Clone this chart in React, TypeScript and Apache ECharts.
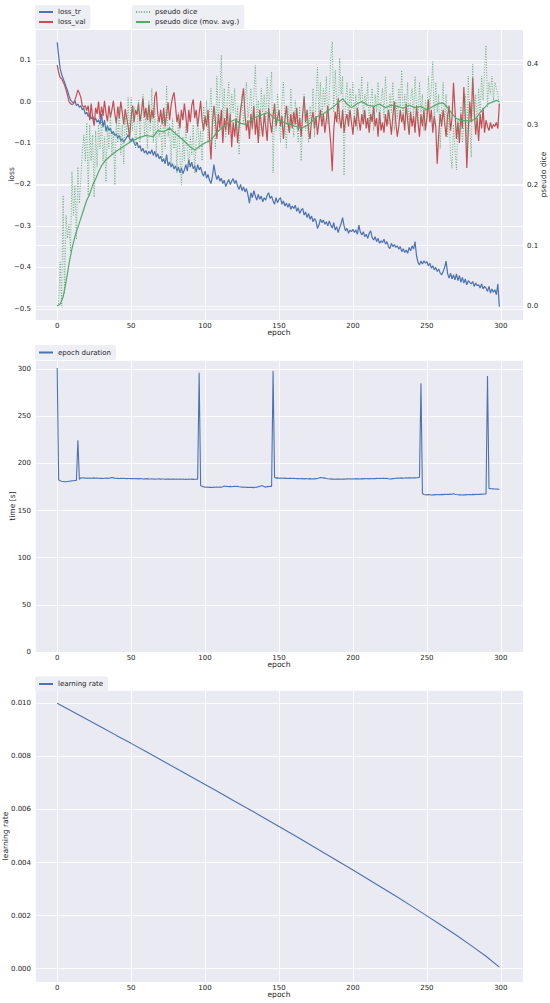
import React, { useEffect, useRef } from "react";
import * as echarts from "echarts";

// ---------- data ----------
const epochs: number[] = Array.from({ length: 300 }, (_, i) => i);

const lossTr: number[] = [
  0.143, 0.11, 0.08, 0.066, 0.056, 0.046, 0.036, 0.026, 0.014, 0.004,
  0.0, -0.004, 0.002, -0.01, -0.006, -0.014, -0.01, -0.02, -0.016, -0.03,
  -0.026, -0.036, -0.03, -0.042, -0.036, -0.046, -0.04, -0.05, -0.044, -0.055,
  -0.03, -0.062, -0.045, -0.072, -0.058, -0.07, -0.064, -0.078, -0.072, -0.082,
  -0.078, -0.088, -0.082, -0.094, -0.09, -0.098, -0.092, -0.086, -0.08, -0.09,
  -0.095, -0.088, -0.1, -0.106, -0.098, -0.112, -0.106, -0.12, -0.113, -0.124,
  -0.118, -0.128, -0.12, -0.126, -0.116, -0.13, -0.12, -0.134, -0.126, -0.138,
  -0.132, -0.145, -0.138, -0.15, -0.128, -0.155, -0.146, -0.158, -0.15, -0.163,
  -0.155, -0.168, -0.158, -0.172, -0.16, -0.174, -0.165, -0.152, -0.168, -0.14,
  -0.158, -0.146, -0.162, -0.155, -0.17, -0.152, -0.165, -0.158, -0.172, -0.18,
  -0.168, -0.185, -0.176, -0.19, -0.198, -0.18, -0.152, -0.175, -0.188, -0.178,
  -0.192, -0.185, -0.198, -0.19, -0.205, -0.196, -0.188, -0.2, -0.192, -0.186,
  -0.198, -0.19, -0.204, -0.212, -0.2, -0.215, -0.206, -0.218, -0.21, -0.225,
  -0.245, -0.22, -0.232, -0.215, -0.228, -0.238, -0.224, -0.236, -0.228, -0.242,
  -0.232, -0.238, -0.226, -0.22, -0.234, -0.228, -0.24, -0.248, -0.232, -0.244,
  -0.236, -0.232, -0.248, -0.24, -0.252, -0.245, -0.255, -0.246, -0.26, -0.252,
  -0.258, -0.25, -0.265, -0.256, -0.27, -0.262, -0.258, -0.274, -0.266, -0.28,
  -0.27, -0.284, -0.276, -0.29, -0.282, -0.288, -0.306, -0.298, -0.284, -0.292,
  -0.286, -0.296, -0.29, -0.3, -0.288, -0.298, -0.305, -0.292, -0.31, -0.302,
  -0.316, -0.304, -0.295, -0.28, -0.3, -0.312, -0.306, -0.318, -0.31, -0.314,
  -0.308, -0.316, -0.31, -0.32, -0.298, -0.315, -0.322, -0.314, -0.326, -0.32,
  -0.33, -0.318, -0.312, -0.328, -0.334, -0.326, -0.338, -0.33, -0.342, -0.336,
  -0.34, -0.332, -0.344, -0.338, -0.35, -0.355, -0.342, -0.35, -0.345, -0.352,
  -0.348, -0.356, -0.35, -0.362, -0.355, -0.364, -0.358, -0.366, -0.352, -0.36,
  -0.348, -0.356, -0.338, -0.372, -0.388, -0.394, -0.385, -0.392, -0.384, -0.39,
  -0.386, -0.396, -0.39, -0.402, -0.396, -0.406, -0.4, -0.41, -0.404, -0.414,
  -0.418, -0.41, -0.4, -0.385, -0.415, -0.426, -0.414, -0.428, -0.418, -0.43,
  -0.416, -0.432, -0.42, -0.436, -0.424, -0.438, -0.428, -0.442, -0.432, -0.436,
  -0.44, -0.434, -0.446, -0.438, -0.444, -0.442, -0.45, -0.44, -0.452, -0.446,
  -0.45, -0.458, -0.446, -0.462, -0.452, -0.46, -0.454, -0.466, -0.44, -0.495,
];

const lossVal: number[] = [
  0.088, 0.07, 0.058, 0.055, 0.047, 0.04, 0.028, 0.015, 0.0, -0.005,
  -0.007, -0.006, 0.004, 0.015, 0.028, 0.02, 0.01, -0.01, -0.014, -0.01,
  -0.022, -0.01, -0.045, -0.005, -0.04, -0.058, -0.015, -0.03, 0.0, -0.042,
  -0.012, -0.035, 0.002, -0.028, -0.048, -0.01, -0.038, -0.02, 0.002, -0.03,
  -0.052, -0.012, -0.04, 0.0, -0.025, -0.055, -0.018, -0.04, -0.06, -0.088,
  -0.04, -0.01, -0.05, -0.02, -0.032, -0.005, -0.048, -0.025, 0.008, -0.038,
  -0.015, -0.045, -0.008, -0.05, -0.02, -0.04, 0.012, 0.024, -0.03, -0.05,
  -0.02, -0.055, -0.015, -0.06, -0.03, -0.002, -0.045, -0.01, 0.01, 0.022,
  -0.01, -0.05, -0.03, -0.065, -0.02, -0.045, -0.005, -0.035, -0.075, -0.02,
  -0.05, -0.01, 0.005, -0.04, -0.02, -0.06, -0.03, 0.002, -0.045, -0.07,
  -0.035, -0.06, -0.02, -0.085, -0.14, -0.05, -0.01, -0.045, -0.09, -0.03,
  -0.065, -0.02, -0.1, -0.04, -0.07, -0.015, -0.08, -0.03, -0.11, -0.05,
  -0.085, -0.04, -0.1, -0.06, -0.02, 0.005, 0.032, -0.03, -0.07, -0.045,
  -0.09, -0.03, -0.065, -0.01, -0.08, -0.04, -0.1, -0.02, -0.055, -0.085,
  -0.03, -0.06, -0.095, -0.015, -0.05, -0.075, -0.035, -0.005, -0.06, -0.04,
  -0.02, -0.06, -0.035, -0.09, -0.045, -0.01, -0.05, -0.075, -0.03, -0.065,
  -0.025, -0.055, -0.015, -0.07, -0.04, -0.085, -0.03, 0.012, -0.05, -0.02,
  -0.07, -0.09, -0.045, -0.025, -0.065, -0.035, -0.08, -0.05, -0.02, -0.06,
  -0.03, -0.075, -0.045, -0.01, -0.06, -0.1, -0.168, -0.07, -0.025, -0.05,
  0.008, -0.04, -0.065, -0.02, -0.075, -0.045, -0.03, -0.06, -0.02, -0.05,
  -0.08, -0.035, -0.06, -0.015, -0.045, -0.07, -0.03, -0.055, -0.02, -0.065,
  -0.04, -0.075, -0.03, -0.05, -0.01, -0.06, -0.04, -0.085, -0.025, -0.07,
  -0.05, -0.075, -0.03, -0.06, -0.02, -0.045, -0.08, -0.035, 0.0, -0.05,
  -0.085, -0.06, -0.02, -0.05, -0.03, -0.07, -0.005, -0.045, -0.08, -0.025,
  -0.06, -0.035, -0.075, -0.01, -0.05, -0.085, -0.03, -0.06, -0.02, -0.07,
  -0.04, 0.005, -0.05, -0.02, -0.075, -0.035, -0.06, -0.15, -0.08, -0.03,
  -0.06, -0.02, -0.05, -0.085, -0.035, -0.01, -0.07, -0.04, 0.045, -0.02,
  -0.09, -0.05, -0.1, -0.03, -0.065, 0.035, -0.04, -0.16, -0.07, 0.0,
  -0.05, 0.058, -0.02, -0.08, -0.04, -0.095, -0.03, -0.065, -0.015, -0.075,
  -0.045, -0.06, -0.07, -0.05, -0.065, -0.055, -0.06, -0.05, -0.065, -0.005,
];

const pseudoDice: number[] = [
  0.0, 0.003, 0.073, 0.0, 0.183, 0.02, 0.15, 0.112, 0.135, 0.09,
  0.222, 0.15, 0.2, 0.11, 0.23, 0.17, 0.21, 0.255, 0.283, 0.24,
  0.303, 0.183, 0.3, 0.24, 0.283, 0.18, 0.29, 0.23, 0.3, 0.26,
  0.31, 0.24, 0.28, 0.205, 0.3, 0.26, 0.32, 0.25, 0.29, 0.2,
  0.31, 0.27, 0.33, 0.25, 0.3, 0.235, 0.32, 0.28, 0.345, 0.27,
  0.345, 0.29, 0.33, 0.26, 0.3, 0.34, 0.27, 0.315, 0.35, 0.28,
  0.32, 0.26, 0.34, 0.29, 0.36, 0.27, 0.33, 0.25, 0.31, 0.28,
  0.3, 0.24, 0.32, 0.26, 0.365, 0.28, 0.3, 0.23, 0.31, 0.26,
  0.29, 0.22, 0.32, 0.25, 0.2, 0.28, 0.24, 0.3, 0.26, 0.23,
  0.28, 0.25, 0.3, 0.22, 0.27, 0.31, 0.26, 0.29, 0.24, 0.33,
  0.3, 0.34, 0.27, 0.32, 0.36, 0.29, 0.33, 0.26, 0.38, 0.3,
  0.35, 0.415, 0.31, 0.36, 0.28, 0.34, 0.37, 0.3, 0.35, 0.32,
  0.36, 0.29, 0.33, 0.25, 0.31, 0.35, 0.3, 0.34, 0.37, 0.31,
  0.33, 0.36, 0.29, 0.35, 0.398, 0.31, 0.34, 0.28, 0.36, 0.32,
  0.35, 0.3, 0.378, 0.32, 0.36, 0.387, 0.22, 0.33, 0.29, 0.35,
  0.31, 0.27, 0.34, 0.37, 0.3, 0.26, 0.33, 0.29, 0.36, 0.31,
  0.28, 0.34, 0.3, 0.27, 0.33, 0.24, 0.31, 0.35, 0.29, 0.32,
  0.27, 0.33, 0.3, 0.36, 0.28, 0.34, 0.395, 0.31, 0.37, 0.3,
  0.36, 0.33, 0.38, 0.3, 0.35, 0.41, 0.437, 0.32, 0.39, 0.34,
  0.3, 0.41, 0.35, 0.38, 0.216, 0.34, 0.37, 0.3, 0.36, 0.33,
  0.37, 0.31, 0.35, 0.29, 0.36, 0.34, 0.38, 0.31, 0.35, 0.33,
  0.37, 0.3, 0.34, 0.36, 0.29, 0.35, 0.32, 0.37, 0.3, 0.34,
  0.36, 0.31, 0.38, 0.33, 0.3, 0.35, 0.32, 0.37, 0.29, 0.34,
  0.31, 0.36, 0.33, 0.39, 0.3, 0.35, 0.32, 0.37, 0.29, 0.34,
  0.36, 0.31, 0.38, 0.33, 0.3, 0.37, 0.32, 0.35, 0.29, 0.34,
  0.31, 0.38, 0.33, 0.36, 0.404, 0.3, 0.37, 0.32, 0.35, 0.26,
  0.33, 0.37, 0.3, 0.35, 0.28, 0.32, 0.25, 0.228, 0.3, 0.26,
  0.225, 0.31, 0.28, 0.33, 0.27, 0.3, 0.35, 0.26, 0.38, 0.3,
  0.246, 0.4, 0.31, 0.35, 0.29, 0.36, 0.32, 0.38, 0.34, 0.39,
  0.431, 0.33, 0.37, 0.35, 0.38, 0.34, 0.37, 0.36, 0.35, 0.33,
];

const movAvgEpochs: number[] = [
  0, 2, 4, 6, 8, 10, 12, 14, 16, 18, 20, 22, 24, 26, 28, 30, 33, 36, 40, 45,
  50, 55, 60, 65, 68, 72, 76, 80, 85, 90, 93, 97, 100, 104, 108, 112, 116, 120, 124, 128,
  132, 136, 140, 143, 146, 150, 155, 160, 165, 170, 175, 180, 185, 190, 193, 196, 199, 203, 206, 210,
  214, 218, 222, 226, 230, 234, 238, 242, 246, 250, 254, 258, 261, 264, 267, 270, 273, 276, 280, 283,
  286, 289, 292, 295, 297, 299,
];
const movAvgValues: number[] = [
  0.0, 0.003, 0.015, 0.04, 0.07, 0.095, 0.115, 0.13, 0.145, 0.16, 0.175, 0.185, 0.2, 0.21, 0.222, 0.232, 0.242, 0.248, 0.256, 0.264,
  0.272, 0.278, 0.282, 0.28, 0.29, 0.288, 0.294, 0.285, 0.275, 0.263, 0.258, 0.265, 0.27, 0.274, 0.287, 0.296, 0.303, 0.308, 0.302, 0.3,
  0.31, 0.314, 0.318, 0.32, 0.312, 0.307, 0.302, 0.298, 0.294, 0.3, 0.312, 0.318, 0.326, 0.336, 0.343, 0.334, 0.328, 0.335, 0.338, 0.332,
  0.33, 0.334, 0.328, 0.332, 0.33, 0.327, 0.332, 0.328, 0.33, 0.324, 0.33, 0.335, 0.336, 0.328, 0.318, 0.31, 0.307, 0.306, 0.306, 0.31,
  0.32, 0.328, 0.335, 0.338, 0.34, 0.338,
];

const epochTime: number[] = [
  301, 182.5, 181.5, 181, 180.8, 180.6, 180.5, 180.8, 181, 181.2,
  181.5, 181.6, 181.8, 182, 224.5, 183, 184.8, 184.5, 184.6, 184.2,
  184.4, 184.3, 184.5, 184.2, 184.4, 184.6, 184.3, 184.5, 184.2, 184.1,
  184.3, 184.0, 184.2, 184.4, 184.1, 184.3, 184.6, 185.0, 184.6, 184.2,
  184.3, 184.1, 184.0, 184.2, 183.9, 184.1, 184.0, 183.8, 184.0, 183.9,
  183.8, 184.0, 183.7, 183.9, 183.8, 183.6, 183.8, 183.7, 183.5, 183.7,
  183.6, 183.8, 183.5, 183.4, 183.6, 183.5, 183.3, 183.5, 183.4, 183.6,
  183.3, 183.5, 183.4, 183.2, 183.4, 183.3, 183.5, 183.2, 183.4, 183.3,
  183.1, 183.3, 183.2, 183.4, 183.1, 183.3, 183.2, 183.0, 183.2, 183.4,
  183.1, 183.3, 183.0, 183.2, 183.1, 183.3, 296, 176.5, 175.6, 175.2,
  174.8, 174.6, 174.9, 174.5, 174.7, 174.4, 174.8, 174.6, 174.9, 174.7,
  175.0, 174.8, 175.2, 176.0, 175.4, 175.8, 175.3, 175.6, 175.2, 175.5,
  175.8, 175.4, 175.6, 175.2, 175.0, 174.8, 174.6, 174.9, 174.5, 174.7,
  174.4, 174.6, 174.5, 174.3, 174.6, 174.8, 175.2, 175.6, 176.4, 176.0,
  175.4, 174.6, 175.6, 175.2, 175.8, 175.4, 298, 185.2, 184.4, 184.6,
  184.3, 184.5, 184.2, 184.4, 184.1, 184.3, 184.0, 184.2, 184.1, 183.9,
  184.1, 183.9, 183.8, 184.0, 183.7, 183.9, 183.8, 183.6, 183.8, 183.7,
  183.6, 183.8, 183.5, 183.7, 183.6, 183.8, 184.0, 184.4, 185.0, 184.8,
  184.6, 184.4, 184.0, 183.7, 183.5, 183.6, 183.3, 183.4, 183.2, 183.4,
  183.3, 183.5, 183.2, 183.4, 183.3, 183.5, 183.6, 183.4, 183.6, 183.5,
  183.7, 183.5, 183.8, 183.6, 183.7, 183.5, 183.8, 183.6, 183.9, 183.7,
  183.8, 183.6, 183.9, 183.7, 184.0, 183.8, 184.1, 183.9, 184.2, 183.9,
  184.1, 184.3, 184.0, 184.2, 183.7, 183.4, 183.6, 183.8, 184.0, 184.3,
  184.5, 184.2, 184.4, 184.6, 184.3, 184.5, 184.7, 184.4, 184.6, 184.8,
  184.5, 184.7, 184.6, 184.8, 184.9, 185.2, 285, 168.0, 167.0, 166.8,
  166.6, 166.9, 166.7, 166.5, 166.8, 166.6, 166.9, 166.7, 167.0, 166.8,
  167.1, 166.9, 167.2, 167.0, 167.3, 167.1, 167.4, 167.2, 167.8, 167.3,
  167.0, 166.8, 166.6, 166.8, 166.5, 166.7, 166.6, 166.9, 166.7, 167.0,
  166.8, 167.1, 166.9, 167.2, 167.0, 167.3, 167.1, 167.4, 167.2, 167.5,
  167.6, 292.5, 173.4, 173.2, 173.1, 173.0, 172.8, 172.9, 172.7, 172.6,
];

const lrEpochs: number[] = [
  0, 10, 20, 30, 40, 50, 60, 70, 80, 90, 100, 110, 120, 130, 140, 150,
  160, 170, 180, 190, 200, 210, 220, 230, 240, 250, 260, 270, 280, 290, 299,
];
const lrValues: number[] = [
  0.01, 0.0097, 0.0094, 0.0091, 0.00879, 0.00849, 0.00818, 0.00787, 0.00756, 0.00725,
  0.00694, 0.00663, 0.00631, 0.006, 0.00568, 0.00536, 0.00504, 0.00471, 0.00438, 0.00405,
  0.00372, 0.00338, 0.00304, 0.0027, 0.00235, 0.00199, 0.00163, 0.00126, 0.00087, 0.00047,
  0.00006,
];

const xTicks = [0, 50, 100, 150, 200, 250, 300];

// ---------- styling ----------
const FONT = "DejaVu Sans";
const TXT = "#262626";
const BG = "#EAEAF2";
const BLUE = "#4C72B0";
const RED = "#C44E52";
const GREEN = "#55A868";

const onStep = (v: number, step: number) =>
  Math.abs(v / step - Math.round(v / step)) < 1e-6;

const fmtSigned = (v: number, d: number) => {
  if (Math.abs(v) < 1e-12) return (0).toFixed(d);
  return (v < 0 ? "\u2212" : "") + Math.abs(v).toFixed(d);
};

const labelStyle = { fontFamily: FONT, fontSize: 7, color: TXT };
const nameStyle = { fontFamily: FONT, fontSize: 7.6, color: TXT };
const splitLine = { show: true, lineStyle: { color: "#FFFFFF", width: 0.8 } };

function makeX(gridIndex: number) {
  return {
    type: "value",
    gridIndex,
    min: -15,
    max: 315,
    splitNumber: 6,
    axisLine: { show: false },
    axisTick: { show: false },
    axisLabel: {
      ...labelStyle,
      margin: 2,
      formatter: (v: number) =>
        xTicks.some((t) => Math.abs(t - v) < 1e-6) ? String(Math.round(v)) : "",
    },
    splitLine,
    name: "epoch",
    nameLocation: "middle",
    nameGap: 8,
    nameMoveOverlap: false,
    nameTextStyle: nameStyle,
  };
}

const legendBase = {
  orient: "vertical",
  itemWidth: 14,
  itemHeight: 8,
  itemGap: 2,
  padding: [3, 5, 3, 3],
  backgroundColor: "#EEEEF5",
  borderRadius: 2,
  selectedMode: false,
  itemStyle: { opacity: 0, borderWidth: 0 },
  textStyle: { fontFamily: FONT, fontSize: 7, color: TXT, lineHeight: 8 },
};

const gridBase = {
  show: true,
  backgroundColor: BG,
  borderWidth: 0,
  containLabel: false,
  outerBoundsMode: "none",
};

export default function App() {
  const ref = useRef<HTMLDivElement>(null);

  useEffect(() => {
    document.body.style.margin = "0";
    if (!ref.current) return;
    const chart = echarts.init(ref.current, undefined, { renderer: "svg" });

    const option: any = {
      animation: false,
      backgroundColor: "#FFFFFF",
      textStyle: { fontFamily: FONT },
      grid: [
        { ...gridBase, left: 35, top: 29, width: 488, height: 291 },
        { ...gridBase, left: 35, top: 360, width: 488, height: 292 },
        { ...gridBase, left: 35, top: 690, width: 488, height: 292 },
      ],
      xAxis: [makeX(0), makeX(1), makeX(2)],
      yAxis: [
        {
          type: "value",
          gridIndex: 0,
          position: "left",
          min: -0.527,
          max: 0.175,
          axisLine: { show: false },
          axisTick: { show: false },
          axisLabel: {
            ...labelStyle,
            margin: 4,
            formatter: (v: number) => (onStep(v, 0.1) ? fmtSigned(v, 1) : ""),
          },
          splitLine,
          name: "loss",
          nameLocation: "middle",
          nameGap: 20,
          nameMoveOverlap: false,
          nameTextStyle: nameStyle,
        },
        {
          type: "value",
          gridIndex: 0,
          position: "right",
          min: -0.023,
          max: 0.458,
          axisLine: { show: false },
          axisTick: { show: false },
          axisLabel: {
            ...labelStyle,
            margin: 4,
            formatter: (v: number) => (onStep(v, 0.1) ? fmtSigned(v, 1) : ""),
          },
          splitLine,
          name: "pseudo dice",
          nameLocation: "middle",
          nameRotate: 90,
          nameGap: 16,
          nameMoveOverlap: false,
          nameTextStyle: nameStyle,
        },
        {
          type: "value",
          gridIndex: 1,
          min: 0,
          max: 309.6,
          axisLine: { show: false },
          axisTick: { show: false },
          axisLabel: {
            ...labelStyle,
            margin: 4,
            formatter: (v: number) => (onStep(v, 50) ? String(Math.round(v)) : ""),
          },
          splitLine,
          name: "time [s]",
          nameLocation: "middle",
          nameGap: 19,
          nameMoveOverlap: false,
          nameTextStyle: nameStyle,
        },
        {
          type: "value",
          gridIndex: 2,
          min: -0.0005,
          max: 0.0105,
          axisLine: { show: false },
          axisTick: { show: false },
          axisLabel: {
            ...labelStyle,
            margin: 4,
            formatter: (v: number) => (onStep(v, 0.002) ? fmtSigned(v, 3) : ""),
          },
          splitLine,
          name: "learning rate",
          nameLocation: "middle",
          nameGap: 26,
          nameMoveOverlap: false,
          nameTextStyle: nameStyle,
        },
      ],
      legend: [
        { ...legendBase, left: 35, top: 5, data: ["loss_tr", "loss_val"] },
        { ...legendBase, left: 132, top: 5, data: ["pseudo dice", "pseudo dice (mov. avg.)"] },
        { ...legendBase, left: 35, top: 345, padding: [3.5, 5, 3.5, 3], data: ["epoch duration"] },
        { ...legendBase, left: 35, top: 676.5, padding: [3.5, 5, 3.5, 3], data: ["learning rate"] },
      ],
      series: [
        {
          name: "loss_tr",
          type: "line",
          xAxisIndex: 0,
          yAxisIndex: 0,
          symbol: "none",
          data: epochs.map((e, i) => [e, lossTr[i]]),
          itemStyle: { color: BLUE },
          lineStyle: { color: BLUE, width: 1.2 },
          z: 2,
        },
        {
          name: "loss_val",
          type: "line",
          xAxisIndex: 0,
          yAxisIndex: 0,
          symbol: "none",
          data: epochs.map((e, i) => [e, lossVal[i]]),
          itemStyle: { color: RED },
          lineStyle: { color: RED, width: 1.2 },
          z: 3,
        },
        {
          name: "pseudo dice",
          type: "line",
          xAxisIndex: 0,
          yAxisIndex: 1,
          symbol: "none",
          data: epochs.map((e, i) => [e, pseudoDice[i]]),
          itemStyle: { color: GREEN },
          lineStyle: { color: GREEN, width: 1, type: [1, 1.6], opacity: 0.85 },
          z: 4,
        },
        {
          name: "pseudo dice (mov. avg.)",
          type: "line",
          xAxisIndex: 0,
          yAxisIndex: 1,
          symbol: "none",
          data: movAvgEpochs.map((e, i) => [e, movAvgValues[i]]),
          itemStyle: { color: GREEN },
          lineStyle: { color: GREEN, width: 1.2 },
          z: 5,
        },
        {
          name: "epoch duration",
          type: "line",
          xAxisIndex: 1,
          yAxisIndex: 2,
          symbol: "none",
          data: epochs.map((e, i) => [e, epochTime[i]]),
          itemStyle: { color: BLUE },
          lineStyle: { color: BLUE, width: 1.1 },
        },
        {
          name: "learning rate",
          type: "line",
          xAxisIndex: 2,
          yAxisIndex: 3,
          symbol: "none",
          data: lrEpochs.map((e, i) => [e, lrValues[i]]),
          itemStyle: { color: BLUE },
          lineStyle: { color: BLUE, width: 1.1 },
        },
      ],
    };

    chart.setOption(option);
    return () => {
      chart.dispose();
    };
  }, []);

  return (
    <div
      ref={ref}
      style={{ position: "absolute", left: 0, top: 0, width: 550, height: 1003, background: "#FFFFFF" }}
    />
  );
}
